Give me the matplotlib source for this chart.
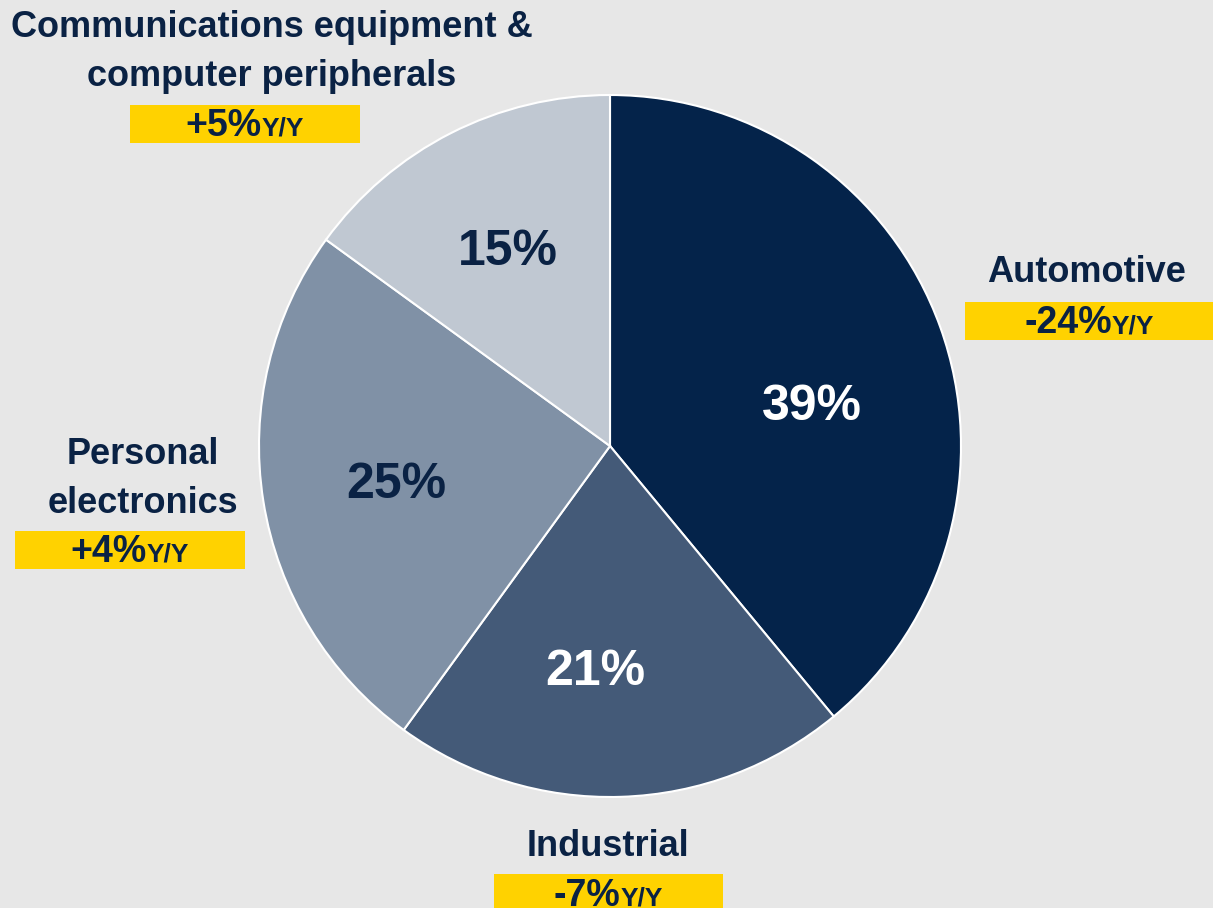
import matplotlib
matplotlib.use("Agg")
import matplotlib.pyplot as plt
from matplotlib.patches import Rectangle

categories = ["Automotive", "Industrial", "Personal\nelectronics", "Communications equipment &\ncomputer peripherals"]
shares = [39, 21, 25, 15]
yoy = ["-24%", "-7%", "+4%", "+5%"]
pct_labels = ["39%", "21%", "25%", "15%"]

colors = ["#04234A", "#445A78", "#8091A6", "#C0C8D2"]
pct_colors = ["white", "white", "#0A2244", "#0A2244"]
navy = "#0A2244"
yellow = "#FFD200"
bg = "#E7E7E7"

plt.rcParams['font.family'] = ['Liberation Sans Narrow', 'Liberation Sans', 'DejaVu Sans']

W, H = 1213, 908
fig = plt.figure(figsize=(W / 100, H / 100), dpi=100, facecolor=bg)
ax = fig.add_axes([0, 0, 1, 1])

def Y(py):
    return H - py

ax.pie(shares, colors=colors, startangle=90, counterclock=False,
       center=(610, Y(446)), radius=351,
       wedgeprops=dict(edgecolor='white', linewidth=1.5), frame=True)
ax.set_xlim(0, W)
ax.set_ylim(0, H)
ax.set_aspect('equal')
ax.axis('off')

# percentage labels (pixel positions)
pct_pos = [(812, 407), (595, 672), (396, 485), (508, 252)]
for (px, py), t, c in zip(pct_pos, pct_labels, pct_colors):
    ax.text(px, Y(py), t, ha='center', va='center', fontsize=36, fontweight='bold', color=c)

# category labels and yoy boxes
label_pos = [(1087, 273), (608, 846), (143, 479), (272, 52)]
box_rects = [(965, 302, 248, 38), (494, 874, 229, 40), (15, 531, 230, 38), (130, 105, 230, 38)]

fig.canvas.draw()
renderer = fig.canvas.get_renderer()

for (px, py), lab, (bx, by, bw, bh), y in zip(label_pos, categories, box_rects, yoy):
    ax.text(px, Y(py), lab, ha='center', va='center', fontsize=26, fontweight='bold',
            color=navy, linespacing=1.5)
    ax.add_patch(Rectangle((bx, Y(by + bh)), bw, bh, facecolor=yellow, edgecolor='none', zorder=2))
    cx = bx + bw / 2
    base = Y(by + bh / 2 + 12)
    t1 = ax.text(0, base, y, ha='left', va='baseline', fontsize=27, fontweight='bold', color=navy, zorder=3)
    t2 = ax.text(0, base, "Y/Y", ha='left', va='baseline', fontsize=19, fontweight='bold', color=navy, zorder=3)
    w1 = t1.get_window_extent(renderer).width
    w2 = t2.get_window_extent(renderer).width
    start = cx - (w1 + w2) / 2
    t1.set_x(start)
    t2.set_x(start + w1)

fig.savefig("out.png", dpi=100, facecolor=bg)
